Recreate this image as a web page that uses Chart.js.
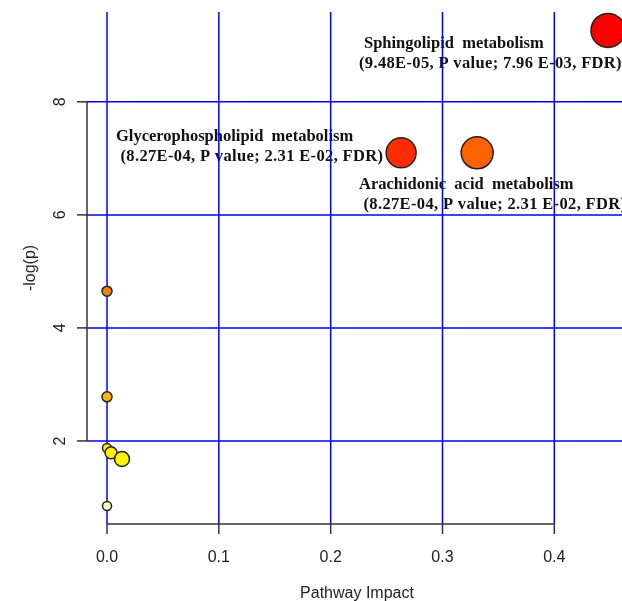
<!DOCTYPE html>
<html>
<head>
<meta charset="utf-8">
<script src="https://cdn.jsdelivr.net/npm/chart.js@4/dist/chart.umd.min.js"></script>
<style>
  html, body { margin: 0; padding: 0; background: #ffffff; overflow: hidden; }
  #wrap { width: 640px; height: 601px; }
</style>
</head>
<body>
<div id="wrap"><canvas id="c" width="640" height="601"></canvas></div>
<script>
// ---- data ----
const pathways = [
  "Sphingolipid metabolism",
  "Glycerophospholipid metabolism",
  "Arachidonic acid metabolism",
  "Pathway 4",
  "Pathway 5",
  "Pathway 6",
  "Pathway 7",
  "Pathway 8",
  "Pathway 9"
];
const pathwayImpact = [0.448, 0.263, 0.331, 0.0, 0.0, 0.0, 0.0036, 0.0134, 0.0];
const negLogP       = [9.264, 7.098, 7.098, 4.65, 2.78, 1.875, 1.79, 1.68, 0.85];
const bubbleRadius  = [17, 15, 16, 5, 5, 4.5, 6, 7.5, 4.5];
const bubbleColors  = ["#FF0000", "#FF2C00", "#FF6200", "#F08300", "#FFB400",
                       "#FFF000", "#FFF200", "#FFF400", "#FFFFC2"];
const xTicks = [0.0, 0.1, 0.2, 0.3, 0.4];
const yTicks = [2, 4, 6, 8];
const xTitle = "Pathway Impact";
const yTitle = "-log(p)";
const labelTexts = [
  ["Sphingolipid  metabolism", "(9.48E-05, P value; 7.96 E-03, FDR)"],
  ["Glycerophospholipid  metabolism", " (8.27E-04, P value; 2.31 E-02, FDR)"],
  ["Arachidonic  acid  metabolism", " (8.27E-04, P value; 2.31 E-02, FDR)"]
];

// ---- layout (pixels) ----
const labelPos = [
  [[364, 44], [359, 64]],
  [[116, 137], [116, 157]],
  [[359, 185], [359, 205]]
];

const points = pathwayImpact.map((x, i) => ({ x: x, y: negLogP[i], r: bubbleRadius[i] }));

const textPlugin = {
  id: 'labels',
  beforeDraw(chart) {
    const ctx = chart.ctx;
    ctx.save();
    ctx.fillStyle = '#111111';
    ctx.font = 'bold 16.5px "Liberation Serif", "Times New Roman", serif';
    ctx.textAlign = 'left';
    ctx.textBaseline = 'middle';
    labelTexts.forEach((lines, i) => {
      lines.forEach((t, j) => {
        ctx.letterSpacing = j === 1 ? '0.35px' : '0px';
        ctx.fillText(t, labelPos[i][j][0], labelPos[i][j][1]);
      });
    });
    ctx.letterSpacing = '0px';
    ctx.restore();
  }
};

const axesPlugin = {
  id: 'raxes',
  beforeDatasetsDraw(chart) {
    const ctx = chart.ctx;
    const xs = chart.scales.x, ys = chart.scales.y;
    const a = chart.chartArea;
    ctx.save();
    // blue grid
    ctx.strokeStyle = '#0000FF';
    ctx.lineWidth = 1.5;
    xTicks.forEach(v => {
      const px = xs.getPixelForValue(v);
      ctx.beginPath(); ctx.moveTo(px, a.top); ctx.lineTo(px, a.bottom); ctx.stroke();
    });
    yTicks.forEach(v => {
      const py = ys.getPixelForValue(v);
      ctx.beginPath(); ctx.moveTo(a.left, py); ctx.lineTo(a.right, py); ctx.stroke();
    });
    // axes (R style)
    ctx.strokeStyle = '#333333';
    ctx.lineWidth = 1.5;
    const x0 = xs.getPixelForValue(xTicks[0]), x1 = xs.getPixelForValue(xTicks[xTicks.length - 1]);
    ctx.beginPath(); ctx.moveTo(x0, a.bottom); ctx.lineTo(x1, a.bottom); ctx.stroke();
    xTicks.forEach(v => {
      const px = xs.getPixelForValue(v);
      ctx.beginPath(); ctx.moveTo(px, a.bottom); ctx.lineTo(px, a.bottom + 10); ctx.stroke();
    });
    const y0 = ys.getPixelForValue(yTicks[0]), y1 = ys.getPixelForValue(yTicks[yTicks.length - 1]);
    ctx.beginPath(); ctx.moveTo(a.left, y0); ctx.lineTo(a.left, y1); ctx.stroke();
    yTicks.forEach(v => {
      const py = ys.getPixelForValue(v);
      ctx.beginPath(); ctx.moveTo(a.left, py); ctx.lineTo(a.left - 10, py); ctx.stroke();
    });
    // tick labels
    ctx.fillStyle = '#222222';
    ctx.font = '16px "Liberation Sans", Arial, sans-serif';
    ctx.textAlign = 'center';
    ctx.textBaseline = 'middle';
    xTicks.forEach(v => {
      ctx.fillText(v.toFixed(1), xs.getPixelForValue(v), a.bottom + 34);
    });
    yTicks.forEach(v => {
      ctx.save();
      ctx.translate(a.left - 26, ys.getPixelForValue(v));
      ctx.rotate(-Math.PI / 2);
      ctx.fillText(String(v), 0, 0);
      ctx.restore();
    });
    // titles
    ctx.fillText(xTitle, (a.left + a.right) / 2, a.bottom + 70);
    ctx.save();
    ctx.translate(a.left - 56, (a.top + a.bottom) / 2);
    ctx.rotate(-Math.PI / 2);
    ctx.fillText(yTitle, 0, 0);
    ctx.restore();
    ctx.restore();
  }
};

new Chart(document.getElementById('c'), {
  type: 'bubble',
  data: {
    datasets: [{
      label: 'Pathways',
      data: points,
      backgroundColor: bubbleColors,
      borderColor: '#222222',
      borderWidth: 1.5,
      clip: false
    }]
  },
  options: {
    responsive: false,
    animation: false,
    layout: { autoPadding: false, padding: { left: 87, top: 12, right: 13, bottom: 77 } },
    plugins: { legend: { display: false }, tooltip: { enabled: false } },
    elements: { point: { hoverRadius: 0 } },
    scales: {
      x: { type: 'linear', display: false, min: -0.0179, max: 0.465 },
      y: { type: 'linear', display: false, min: 0.53, max: 9.59 }
    }
  },
  plugins: [textPlugin, axesPlugin]
});
</script>
</body>
</html>
